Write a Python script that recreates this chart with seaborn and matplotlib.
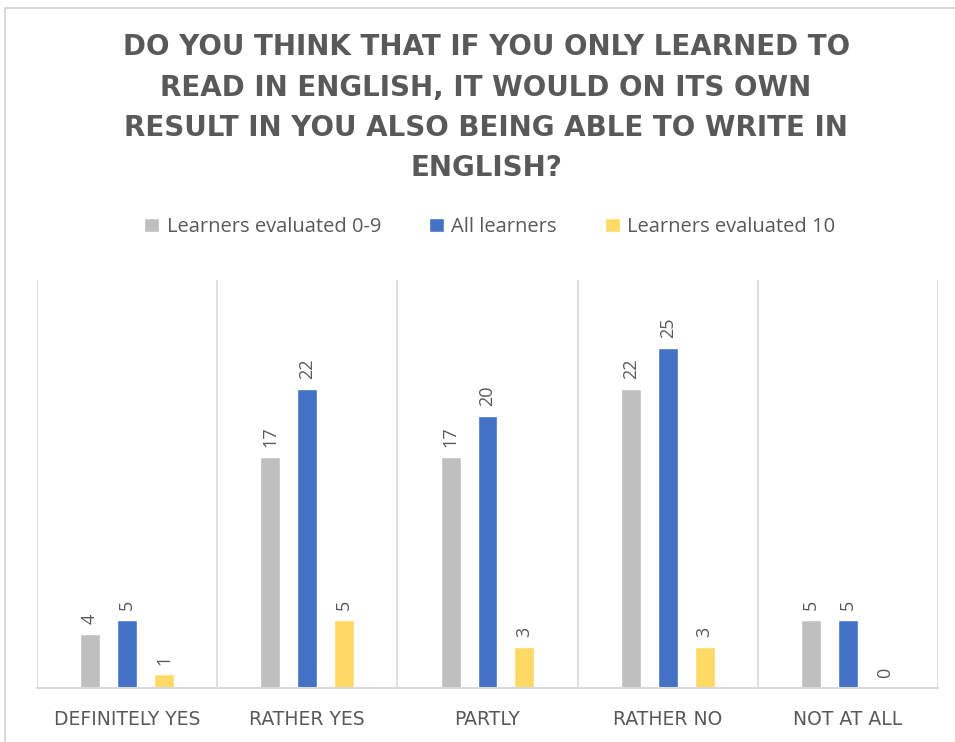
"""
Survey chart: reading vs. writing in English, by learner group.
"""

import numpy as np
import pandas as pd
import matplotlib
matplotlib.use('Agg')
import matplotlib.pyplot as plt
from matplotlib.lines import Line2D
import seaborn as sns

# Data
CATEGORIES = ['DEFINITELY YES', 'RATHER YES', 'PARTLY', 'RATHER NO', 'NOT AT ALL']
SERIES = ['Learners evaluated 0-9', 'All learners', 'Learners evaluated 10']
EVAL_0_9 = [4, 17, 17, 22, 5]
ALL_LEARNERS = [5, 22, 20, 25, 5]
EVAL_10 = [1, 5, 3, 3, 0]

TITLE = ('DO YOU THINK THAT IF YOU ONLY LEARNED TO\n'
         'READ IN ENGLISH, IT WOULD ON ITS OWN\n'
         'RESULT IN YOU ALSO BEING ABLE TO WRITE IN\n'
         'ENGLISH?')

# Styling
COLORS = ['#BFBFBF', '#4472C4', '#FFD966']
TEXT = '#595959'
GRID = '#D9D9D9'

sns.set_style('white')
plt.rcParams['font.family'] = ['Open Sans', 'DejaVu Sans']

df = pd.DataFrame({
    'category': CATEGORIES * 3,
    'series': [SERIES[0]] * 5 + [SERIES[1]] * 5 + [SERIES[2]] * 5,
    'value': EVAL_0_9 + ALL_LEARNERS + EVAL_10,
})

fig = plt.figure(figsize=(9.55, 7.42), dpi=100)
ax = fig.add_axes([0.0387, 0.0728, 0.9435, 0.5499])

sns.barplot(data=df, x='category', y='value', hue='series', order=CATEGORIES,
            hue_order=SERIES, palette=COLORS, width=0.615, gap=0.46,
            saturation=1, legend=True, ax=ax)

# Value labels, rotated like Excel
for container in ax.containers:
    ax.bar_label(container, labels=[f'{v:.0f}' for v in container.datavalues],
                 rotation=90, padding=7, color=TEXT, fontsize=13)

ax.set_ylim(0, 30)
ax.set_xlim(-0.5, len(CATEGORIES) - 0.5)
ax.set_yticks([])
ax.set_xlabel('')
ax.set_ylabel('')
ax.set_xticks(np.arange(-0.5, len(CATEGORIES)), minor=True)
ax.grid(True, which='minor', axis='x', color=GRID, linewidth=1.2)
ax.tick_params(axis='x', which='both', length=0, pad=16, labelcolor=TEXT)
for lbl in ax.get_xticklabels():
    lbl.set_fontfamily('DejaVu Sans')
    lbl.set_fontsize(13.5)
for side in ['top', 'left', 'right']:
    ax.spines[side].set_visible(False)
ax.spines['bottom'].set_color(GRID)
ax.spines['bottom'].set_linewidth(1.5)

# Legend with square markers on top
handles, labels = ax.get_legend_handles_labels()
ax.get_legend().remove()
fig.legend(handles, labels, loc='center', bbox_to_anchor=(0.513, 0.694), ncol=3,
           frameon=False, handlelength=0.75, handleheight=0.75, handletextpad=0.35,
           columnspacing=2.4, fontsize=14.5, labelcolor=TEXT)

fig.text(0.509, 0.855, TITLE, ha='center', va='center', fontsize=20,
         fontweight='bold', color=TEXT, linespacing=1.55, family='DejaVu Sans')

# Chart frame
fig.add_artist(Line2D([0.005, 1.0], [0.989, 0.989], color=GRID, linewidth=1.5))
fig.add_artist(Line2D([0.005, 0.005], [0.0, 0.989], color=GRID, linewidth=1.5))

plt.savefig('out.png', dpi=100)
plt.close()
